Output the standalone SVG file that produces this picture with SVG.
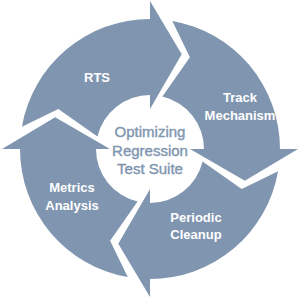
<svg xmlns="http://www.w3.org/2000/svg" xmlns:xlink="http://www.w3.org/1999/xlink" width="300" height="300" viewBox="0 0 300 300">
<style>
.arrow{fill:#8096B0;stroke:none}
.lbl{font-family:"Liberation Sans",Arial,sans-serif;font-weight:bold;font-size:13px;fill:#FFFFFF;text-anchor:middle}
.ctr{font-family:"Liberation Sans",Arial,sans-serif;font-size:15px;fill:#8096B0;stroke:#8096B0;stroke-width:0.4;text-anchor:middle}
</style>
<defs>
<path id="seg" d="M21.92,126.73 A130,130 0 0 1 150,19 L150,1 L181.73,54.17 L150,109 L150,95 A54,54 0 0 0 97.44,136.59 L58.29,109.12 Z"/>
</defs>
<rect width="300" height="300" fill="#FFFFFF"/>
<g id="connectors"/>
<g id="node-rts">
<use xlink:href="#seg" href="#seg" class="arrow"/>
<text class="lbl" x="97" y="82">RTS</text>
</g>
<g id="node-track">
<use xlink:href="#seg" href="#seg" class="arrow" transform="rotate(90 150 149)"/>
<text class="lbl" x="240" y="102">Track</text>
<text class="lbl" x="240" y="120">Mechanism</text>
</g>
<g id="node-cleanup">
<use xlink:href="#seg" href="#seg" class="arrow" transform="rotate(180 150 149)"/>
<text class="lbl" x="196" y="222">Periodic</text>
<text class="lbl" x="196" y="239">Cleanup</text>
</g>
<g id="node-metrics">
<use xlink:href="#seg" href="#seg" class="arrow" transform="rotate(270 150 149)"/>
<text class="lbl" x="72" y="192">Metrics</text>
<text class="lbl" x="72" y="210">Analysis</text>
</g>
<g id="node-center">
<text class="ctr" x="150" y="137">Optimizing</text>
<text class="ctr" x="150" y="156">Regression</text>
<text class="ctr" x="150" y="174">Test Suite</text>
</g>
</svg>
